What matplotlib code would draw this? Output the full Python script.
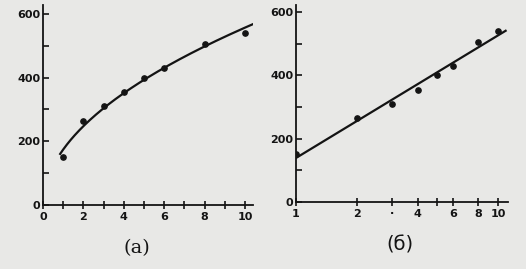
import numpy as np
import matplotlib
matplotlib.use("Agg")
import matplotlib.pyplot as plt
from matplotlib.ticker import FixedLocator, NullFormatter

# measured points (same data in both panels)
x_vals = [1, 2, 3, 4, 5, 6, 8, 10]
y_vals = [150, 265, 310, 355, 400, 430, 505, 540]

left_xticks = [0, 2, 4, 6, 8, 10]
left_xminor = [1, 3, 5, 7, 9]
right_xticks = [1, 2, 3, 4, 6, 8, 10]
right_xlabels = ["1", "2", "·", "4", "6", "8", "10"]
right_xminor = [5]
yticks = [0, 200, 400, 600]
yminor = [100, 300, 500]

bg = "#e8e8e6"
ink = "#141414"

plt.rcParams['font.family'] = ['DejaVu Sans']

fig = plt.figure(figsize=(5.26, 2.69), dpi=100, facecolor=bg)
ax1 = fig.add_axes([43 / 526, 1 - 205 / 269, 210 / 526, 200 / 269])
ax2 = fig.add_axes([296 / 526, 1 - 202 / 269, 212 / 526, 197 / 269])

x = np.array(x_vals, dtype=float)
y = np.array(y_vals, dtype=float)

# (a) linear axis, square-root-like trend
b, a = np.polyfit(np.sqrt(x), y, 1)
xs = np.linspace(0.85, 10.4, 200)
ax1.plot(xs, a + b * np.sqrt(xs), color=ink, lw=1.6)
ax1.plot(x, y, 'o', color=ink, ms=3.8)
ax1.set_xlim(0, 10.4)
ax1.set_ylim(0, 628)
ax1.set_xticks(left_xticks)
ax1.xaxis.set_minor_locator(FixedLocator(left_xminor))

# (б) log axis, straight line
m, c = np.polyfit(np.log10(x), y, 1)
xl = np.logspace(0, np.log10(10.9), 100)
ax2.plot(xl, c + m * np.log10(xl), color=ink, lw=1.6)
ax2.plot(x, y, 'o', color=ink, ms=3.8)
ax2.set_xscale('log')
ax2.set_xlim(1, 11.2)
ax2.set_ylim(0, 622)
ax2.xaxis.set_major_locator(FixedLocator(right_xticks))
ax2.set_xticklabels(right_xlabels)
ax2.xaxis.set_minor_locator(FixedLocator(right_xminor))
ax2.xaxis.set_minor_formatter(NullFormatter())

for ax in (ax1, ax2):
    ax.set_facecolor(bg)
    ax.spines['top'].set_visible(False)
    ax.spines['right'].set_visible(False)
    for s in ('left', 'bottom'):
        ax.spines[s].set_linewidth(1.3)
        ax.spines[s].set_color(ink)
    ax.set_yticks(yticks)
    ax.yaxis.set_minor_locator(FixedLocator(yminor))
    ax.tick_params(axis='y', which='both', direction='in', length=4, width=1.2,
                   colors=ink, pad=2, labelsize=8)
    ax.tick_params(axis='x', which='both', direction='inout', length=6, width=1.2,
                   colors=ink, pad=2, labelsize=8)
    for lab in ax.get_xticklabels() + ax.get_yticklabels():
        lab.set_fontweight('bold')

fig.text(137 / 526, 1 - 248 / 269, "(a)", ha='center', va='center',
         fontsize=14, family='DejaVu Serif', color=ink)
fig.text(400 / 526, 1 - 245 / 269, "(б)", ha='center', va='center',
         fontsize=14, family='DejaVu Sans', color=ink)

fig.savefig("out.png", dpi=100, facecolor=bg)
